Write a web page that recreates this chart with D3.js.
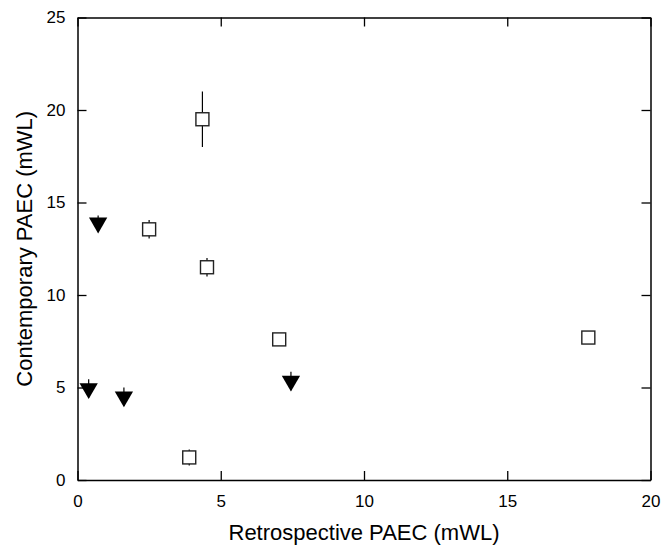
<!DOCTYPE html>
<html><head><meta charset="utf-8">
<script src="https://cdn.jsdelivr.net/npm/d3@7"></script>
<style>body{margin:0;background:#fff}svg{display:block}</style>
</head><body>
<script>
const xTicks = [0, 5, 10, 15, 20];
const yTicks = [0, 5, 10, 15, 20, 25];
const sqX = [4.36, 2.50, 4.52, 7.04, 17.83, 3.90];
const sqY = [19.5, 13.55, 11.5, 7.6, 7.7, 1.22];
const sqErr = [1.5, 0.5, 0.5, 0.3, 0.3, 0.43];
const trX = [0.72, 0.39, 1.62, 7.45];
const trY = [13.9, 4.95, 4.5, 5.35];
const trErr = [0.4, 0.5, 0.5, 0.5];

const W = 672, H = 545;
const m = {l: 77.5, r: 650.5, t: 17.5, b: 480};
const svg = d3.select("body").append("svg").attr("width", W).attr("height", H);
const x = d3.scaleLinear().domain([0, 20]).range([m.l, m.r]);
const y = d3.scaleLinear().domain([0, 25]).range([m.b, m.t]);
const font = "Liberation Sans, Arial, Helvetica, sans-serif";

function styleAxis(g, labels) {
  g.select(".domain").attr("stroke", "#000").attr("stroke-width", 1.5);
  g.selectAll(".tick line").attr("stroke", "#000").attr("stroke-width", 1.3);
  g.selectAll(".tick text").attr("font-family", font).attr("font-size", 17).attr("fill", "#000");
  if (!labels) g.selectAll(".tick text").remove();
}
svg.append("g").attr("transform", `translate(0,${m.b})`)
  .call(d3.axisBottom(x).tickValues(xTicks).tickSizeInner(-9).tickSizeOuter(0).tickPadding(15))
  .call(g => styleAxis(g, true));
svg.append("g").attr("transform", `translate(0,${m.t})`)
  .call(d3.axisTop(x).tickValues(xTicks).tickSizeInner(-9).tickSizeOuter(0))
  .call(g => styleAxis(g, false));
svg.append("g").attr("transform", `translate(${m.l},0)`)
  .call(d3.axisLeft(y).tickValues(yTicks).tickSizeInner(-9).tickSizeOuter(0).tickPadding(12))
  .call(g => styleAxis(g, true));
svg.append("g").attr("transform", `translate(${m.r},0)`)
  .call(d3.axisRight(y).tickValues(yTicks).tickSizeInner(-9).tickSizeOuter(0))
  .call(g => styleAxis(g, false));

svg.append("text").attr("x", (m.l + m.r) / 2).attr("y", 540).attr("text-anchor", "middle")
  .attr("font-family", font).attr("font-size", 22).text("Retrospective PAEC (mWL)");
svg.append("text").attr("transform", `translate(32,${(m.t + m.b) / 2}) rotate(-90)`).attr("text-anchor", "middle")
  .attr("font-family", font).attr("font-size", 22).text("Contemporary PAEC (mWL)");

const sq = sqX.map((v, i) => ({x: v, y: sqY[i], e: sqErr[i]}));
const tr = trX.map((v, i) => ({x: v, y: trY[i], e: trErr[i]}));

svg.append("g").selectAll("line").data(sq.concat(tr)).join("line")
  .attr("x1", d => x(d.x)).attr("x2", d => x(d.x))
  .attr("y1", d => y(d.y - d.e)).attr("y2", d => y(d.y + d.e))
  .attr("stroke", "#000").attr("stroke-width", 1.2);

svg.append("g").selectAll("rect").data(sq).join("rect")
  .attr("x", d => x(d.x) - 6.5).attr("y", d => y(d.y) - 6.5)
  .attr("width", 13).attr("height", 13)
  .attr("fill", "#fff").attr("stroke", "#222").attr("stroke-width", 1.4);

const tri = d3.symbol().type(d3.symbolTriangle).size(145);
svg.append("g").selectAll("path").data(tr).join("path")
  .attr("d", tri)
  .attr("transform", d => `translate(${x(d.x)},${y(d.y)}) rotate(180)`)
  .attr("fill", "#000");
</script>
</body></html>
